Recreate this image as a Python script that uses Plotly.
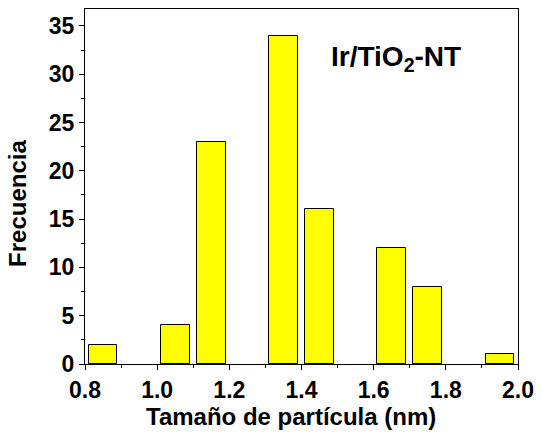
import plotly.graph_objects as go

# Particle size histogram (bin centers in nm) and counts
bin_centers = [0.85, 1.05, 1.15, 1.35, 1.45, 1.65, 1.75, 1.95]
counts = [2, 4, 23, 34, 16, 12, 8, 1]
bar_width = 0.08

x_ticks = [0.8, 1.0, 1.2, 1.4, 1.6, 1.8, 2.0]
x_tick_text = ["0.8", "1.0", "1.2", "1.4", "1.6", "1.8", "2.0"]
y_ticks = [0, 5, 10, 15, 20, 25, 30, 35]

FONT = "Liberation Sans, Arial, sans-serif"

# plot area in pixels
L, R, T, B = 85, 521, 8, 364
W, H = 542, 433


def px_x(px):
    return (px - L) / (R - L)


def px_y(py):
    return 1 - (py - T) / (B - T)


fig = go.Figure(
    go.Bar(
        x=bin_centers,
        y=counts,
        width=bar_width,
        marker=dict(color="#FFFF00", line=dict(color="black", width=1)),
        showlegend=False,
    )
)

axis_common = dict(
    showline=True,
    linecolor="black",
    linewidth=1.2,
    mirror=True,
    ticks="outside",
    ticklen=5,
    tickwidth=1.2,
    tickcolor="black",
    showgrid=False,
    zeroline=False,
    tickfont=dict(family=FONT, size=23, color="black", weight="bold"),
)

fig.update_xaxes(
    **axis_common,
    range=[0.8, 2.0],
    tickvals=x_ticks,
    ticktext=x_tick_text,
    minor=dict(dtick=0.1, tick0=0.8, ticks="outside", ticklen=3, tickwidth=1.2, tickcolor="black"),
)
fig.update_yaxes(
    **axis_common,
    range=[0, 36.75],
    tickvals=y_ticks,
    minor=dict(dtick=2.5, tick0=0, ticks="outside", ticklen=3, tickwidth=1.2, tickcolor="black"),
)

title_font = dict(family=FONT, size=24, color="black", weight="bold")

# axis titles
fig.add_annotation(
    x=px_x(292), y=px_y(417), xref="paper", yref="paper",
    xanchor="center", yanchor="middle",
    text="Tamaño de partícula (nm)", showarrow=False, font=title_font,
)
fig.add_annotation(
    x=px_x(17), y=px_y(203), xref="paper", yref="paper",
    xanchor="center", yanchor="middle", textangle=-90,
    text="Frecuencia", showarrow=False, font=title_font,
)

# sample label
fig.add_annotation(
    x=px_x(398), y=px_y(58), xref="paper", yref="paper",
    xanchor="center", yanchor="middle",
    text="<b>Ir/TiO<sub>2</sub>-NT</b>",
    showarrow=False,
    font=dict(family=FONT, size=28, color="black"),
)

fig.update_layout(
    width=W,
    height=H,
    margin=dict(l=L, r=W - R, t=T, b=H - B),
    paper_bgcolor="white",
    plot_bgcolor="white",
    font=dict(family=FONT, color="black"),
    bargap=0,
)

fig.write_html("out.html")
